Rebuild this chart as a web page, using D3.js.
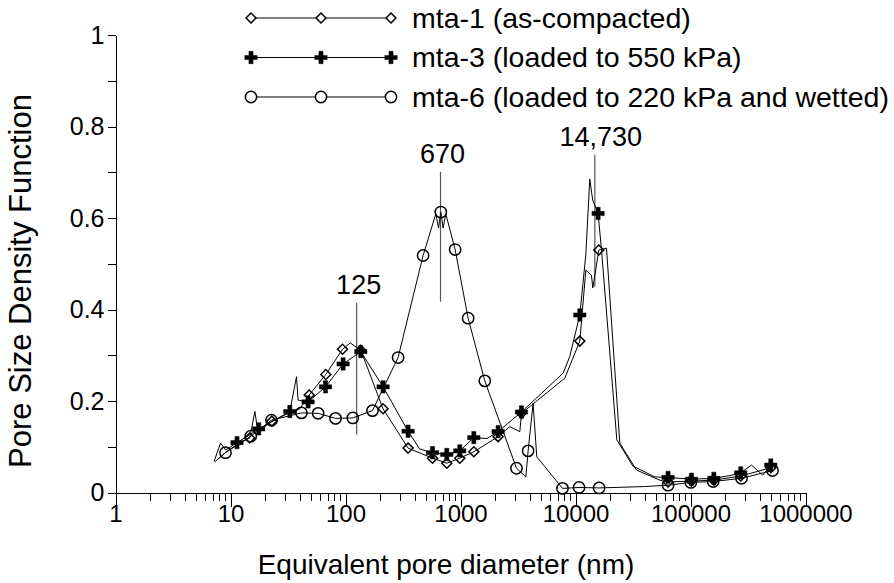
<!DOCTYPE html>
<html>
<head>
<meta charset="utf-8">
<script src="https://cdn.jsdelivr.net/npm/d3@7"></script>
<style>
  body { margin: 0; background: #fff; }
  text { font-family: "Liberation Sans", Arial, sans-serif; fill: #000; }
</style>
</head>
<body>
<svg width="894" height="583"></svg>
<script>
// Pore diameter (nm) vs pore size density
const mta1Line = [
  [7.6, 0.071], [9.5, 0.092], [12.0, 0.108], [14.7, 0.119], [16.3, 0.177], [17.3, 0.132],
  [22.9, 0.156], [33, 0.175], [40.1, 0.183], [48.3, 0.213], [67.4, 0.258], [94.2, 0.313],
  [110, 0.327], [135.8, 0.311], [212, 0.183], [350, 0.097], [571, 0.075], [760, 0.064],
  [986, 0.075], [1306, 0.089], [2123, 0.122], [2685, 0.144], [3281, 0.133], [3390, 0.173],
  [8075, 0.250], [10900, 0.331], [12300, 0.486], [13770, 0.475], [14130, 0.447], [14730, 0.475],
  [15950, 0.530], [18600, 0.534], [24280, 0.108], [33900, 0.049], [54100, 0.027],
  [63840, 0.023], [102000, 0.025], [159600, 0.027], [273700, 0.036], [499000, 0.054]
];
const mta1Marks = [
  [14.7, 0.119], [22.9, 0.156], [48.3, 0.213], [67.4, 0.258], [94.2, 0.313], [135.8, 0.311],
  [212, 0.183], [350, 0.097], [571, 0.075], [760, 0.064], [986, 0.075], [1306, 0.089],
  [2123, 0.122], [3390, 0.173], [10900, 0.331], [15950, 0.530],
  [63840, 0.023], [102000, 0.025], [159600, 0.027], [273700, 0.036], [499000, 0.054]
];

const mta3Line = [
  [7.2, 0.068], [8.19, 0.108], [9.05, 0.093], [11.4, 0.109], [14.5, 0.125], [17.6, 0.139],
  [25, 0.160], [32.8, 0.177], [37.5, 0.253], [38.7, 0.202], [47.3, 0.198], [67.0, 0.231],
  [95.3, 0.281], [135.8, 0.308], [212.3, 0.231], [350, 0.134], [442, 0.095], [571, 0.087],
  [760, 0.083], [986, 0.091], [1306, 0.120], [1700, 0.118], [2123, 0.133], [3390, 0.176],
  [7810, 0.261], [8910, 0.297], [10900, 0.388], [12300, 0.520], [13310, 0.685], [14120, 0.639],
  [15730, 0.610], [16830, 0.530], [22880, 0.115], [31500, 0.058], [49000, 0.034],
  [63840, 0.033], [102000, 0.029], [159600, 0.031], [220000, 0.037], [273700, 0.043],
  [339000, 0.060], [425000, 0.038], [499000, 0.060]
];
const mta3Marks = [
  [11.4, 0.109], [17.6, 0.139], [32.8, 0.177], [47.3, 0.198], [67.0, 0.231], [95.3, 0.281],
  [135.8, 0.308], [212.3, 0.231], [350, 0.134], [571, 0.087], [760, 0.083], [986, 0.091],
  [1306, 0.120], [2123, 0.133], [3390, 0.176], [10900, 0.388], [15730, 0.610],
  [63840, 0.033], [102000, 0.029], [159600, 0.031], [273700, 0.043], [499000, 0.060]
];

const mta6Line = [
  [7.3, 0.067], [9.05, 0.087], [15.0, 0.123], [22.7, 0.158], [41.4, 0.174], [57.8, 0.173],
  [81.9, 0.162], [115.7, 0.163], [171.7, 0.179], [286.6, 0.295], [473, 0.518], [610, 0.609],
  [644, 0.578], [674, 0.613], [706, 0.578], [745, 0.609], [898, 0.531], [1165, 0.381],
  [1626, 0.244], [3069, 0.053], [3698, 0.034], [3873, 0.091], [4277, 0.195], [4606, 0.078],
  [7709, 0.009], [10740, 0.011], [16040, 0.010], [40000, 0.013], [63840, 0.016],
  [100700, 0.022], [157300, 0.024], [277500, 0.031], [516600, 0.048]
];
const mta6Marks = [
  [9.05, 0.087], [15.0, 0.123], [22.7, 0.158], [41.4, 0.174], [57.8, 0.173], [81.9, 0.162],
  [115.7, 0.163], [171.7, 0.179], [286.6, 0.295], [473, 0.518], [674, 0.613], [898, 0.531],
  [1165, 0.381], [1626, 0.244], [3069, 0.053], [3873, 0.091], [7709, 0.009], [10740, 0.011],
  [16040, 0.010], [63840, 0.016], [100700, 0.022], [157300, 0.024], [277500, 0.031], [516600, 0.048]
];

const seriesNames = [
  'mta-1 (as-compacted)',
  'mta-3 (loaded to 550 kPa)',
  'mta-6 (loaded to 220 kPa and wetted)'
];

// peak annotations: label, diameter, line top / bottom (density units)
const peakLabels = ['125', '670', '14,730'];
const peakValues = [125, 670, 14730];
const peakTops = [0.414, 0.701, 0.738];
const peakBottoms = [0.126, 0.417, 0.450];

const xTickValues = [1, 10, 100, 1000, 10000, 100000, 1000000];
const yTickValues = [0, 0.2, 0.4, 0.6, 0.8, 1];
const yMinorValues = [0.1, 0.3, 0.5, 0.7, 0.9];

const svg = d3.select('svg');

const plotLeft = 115.5, plotRight = 805.5, plotTop = 35, plotBottom = 492.5;

const x = d3.scaleLog().domain([1, 1e6]).range([plotLeft, plotRight]);
const y = d3.scaleLinear().domain([0, 1]).range([plotBottom, plotTop]);

// Axes
let minorX = x.ticks().filter(d => !xTickValues.includes(d));

svg.append('g')
  .attr('transform', `translate(0,${plotBottom})`)
  .call(d3.axisBottom(x).tickValues(minorX).tickSize(8).tickSizeOuter(0).tickFormat(''))
  .call(g => g.select('.domain').remove());

svg.append('g')
  .attr('transform', `translate(0,${plotBottom})`)
  .call(d3.axisBottom(x).tickValues(xTickValues).tickSize(14).tickSizeOuter(0).tickFormat(d3.format('d')))
  .call(g => g.selectAll('text').attr('dy', null).attr('y', 29).style('font-size', '24px'));

svg.append('g')
  .attr('transform', `translate(${plotLeft},0)`)
  .call(d3.axisLeft(y).tickValues(yMinorValues).tickSize(8).tickSizeOuter(0).tickFormat(''))
  .call(g => g.select('.domain').remove());

svg.append('g')
  .attr('transform', `translate(${plotLeft},0)`)
  .call(d3.axisLeft(y).tickValues(yTickValues).tickSize(8).tickSizeOuter(0).tickFormat(d3.format('~g')))
  .call(g => g.selectAll('text').style('font-size', '25px'));

svg.selectAll('.tick line, .domain').attr('stroke', '#000').attr('shape-rendering', 'crispEdges');

svg.append('text')
  .attr('x', 446)
  .attr('y', 574)
  .attr('text-anchor', 'middle')
  .style('font-size', '28px')
  .text('Equivalent pore diameter (nm)');

svg.append('text')
  .attr('transform', 'translate(31,281) rotate(-90)')
  .attr('text-anchor', 'middle')
  .style('font-size', '31px')
  .text('Pore Size Density Function');

// Peak annotations
peakValues.forEach((v, i) => {
  svg.append('line')
    .attr('x1', x(v)).attr('x2', x(v))
    .attr('y1', y(peakTops[i])).attr('y2', y(peakBottoms[i]))
    .attr('stroke', '#555')
    .attr('stroke-width', 1.2);
  svg.append('text')
    .attr('x', x(v) + (i === 2 ? 6 : 2))
    .attr('y', y(peakTops[i]) - 9)
    .attr('text-anchor', 'middle')
    .style('font-size', '27px')
    .text(peakLabels[i]);
});

// Series
const line = d3.line().x(d => x(d[0])).y(d => y(d[1]));

const symbols = [
  { type: d3.symbolSquare, size: 50, rotate: 45, fill: 'none' },
  { type: d3.symbolCross, size: 85, rotate: 0, fill: '#000' },
  { type: d3.symbolCircle, size: 100, rotate: 0, fill: 'none' }
];

const series = [
  { line: mta1Line, marks: mta1Marks },
  { line: mta3Line, marks: mta3Marks },
  { line: mta6Line, marks: mta6Marks }
];

series.forEach((s, i) => {
  svg.append('path')
    .datum(s.line)
    .attr('fill', 'none')
    .attr('stroke', '#000')
    .attr('stroke-width', 1)
    .attr('d', line);

  svg.append('g').selectAll('path')
    .data(s.marks)
    .enter().append('path')
      .attr('transform', d => `translate(${x(d[0])},${y(d[1])}) rotate(${symbols[i].rotate})`)
      .attr('d', d3.symbol().type(symbols[i].type).size(symbols[i].size))
      .attr('fill', symbols[i].fill)
      .attr('stroke', '#000')
      .attr('stroke-width', i === 1 ? 0.5 : 1.5);
});

// Legend
const legendY = [18, 57.5, 97];
const legend = svg.append('g');

seriesNames.forEach((name, i) => {
  let g = legend.append('g').attr('transform', `translate(0,${legendY[i]})`);
  g.append('line')
    .attr('x1', 251).attr('x2', 391)
    .attr('stroke', '#000').attr('stroke-width', 1);
  [251, 321, 391].forEach(mx => {
    g.append('path')
      .attr('transform', `translate(${mx},0) rotate(${symbols[i].rotate})`)
      .attr('d', d3.symbol().type(symbols[i].type).size(symbols[i].size))
      .attr('fill', symbols[i].fill === 'none' ? '#fff' : symbols[i].fill)
      .attr('stroke', '#000')
      .attr('stroke-width', i === 1 ? 0.5 : 1.5);
  });
  g.append('text')
    .attr('x', 412)
    .attr('dy', '0.35em')
    .style('font-size', '28.5px')
    .text(name);
});
</script>
</body>
</html>
